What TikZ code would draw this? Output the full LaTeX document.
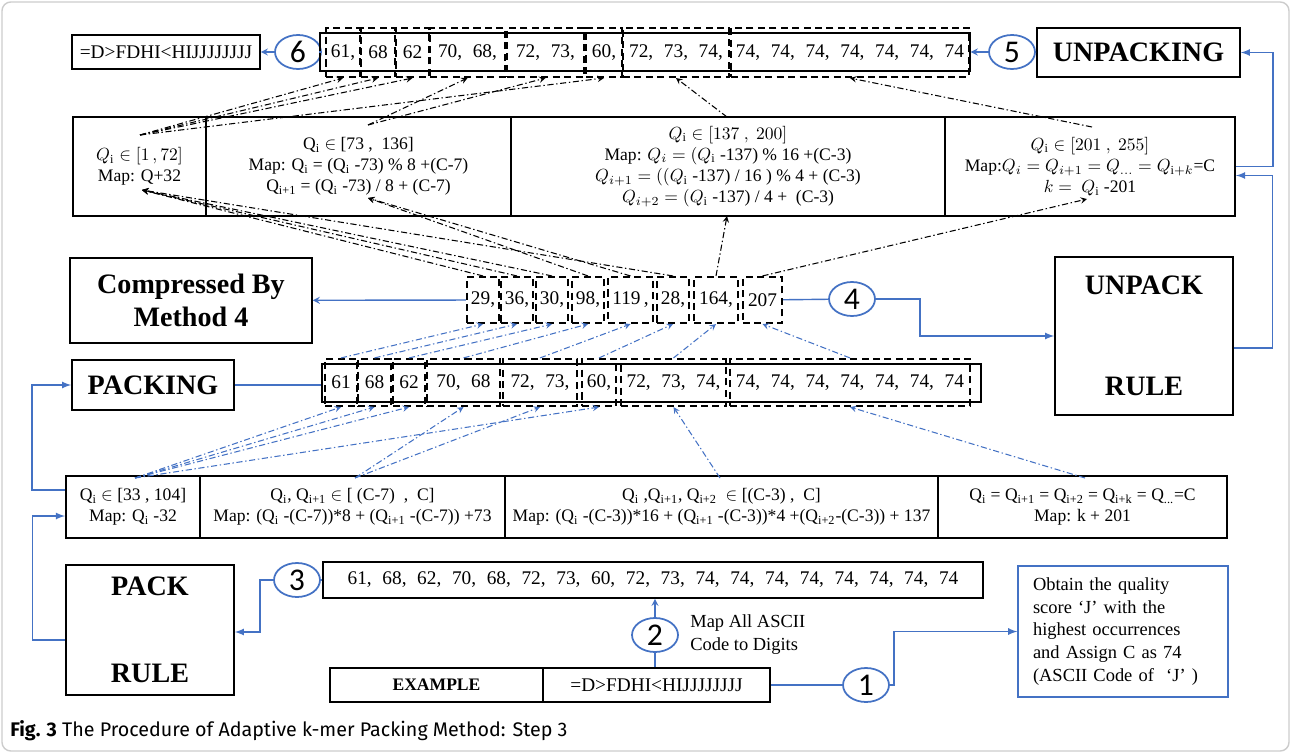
\documentclass[tikz,border=0pt]{standalone}
\usepackage{fontspec}
\setmainfont{Liberation Serif}
\newfontfamily\capfont{Fira Sans}
\newfontfamily\numfont{Carlito}
\usetikzlibrary{shapes.geometric,calc}
\definecolor{linkblue}{RGB}{68,114,196}
\newcommand{\nsp}{\hspace{0.55em}}
\newcommand{\qs}[1]{Q\textsubscript{#1}}
\tikzstyle{cell} = [rectangle, draw=black, line width=1.1pt, inner sep=0pt, minimum height=1.98cm, align=center, font=\fontsize{10}{12}\selectfont]
\tikzstyle{lcell} = [cell, minimum height=1.24cm]
\tikzstyle{heading} = [rectangle, draw=black, line width=0.9pt, inner sep=0pt, align=center, font=\fontsize{16}{19}\selectfont\bfseries]
\tikzstyle{seqbox} = [rectangle, draw=black, line width=0.9pt, inner sep=0pt, minimum height=0.76cm, font=\fontsize{11}{13}\selectfont]
\tikzstyle{grp} = [rectangle, draw=black, line width=1.2pt, dash pattern=on 4pt off 2.5pt, inner sep=0pt, font=\fontsize{11}{13}\selectfont]
\tikzstyle{num} = [ellipse, draw=linkblue, line width=1pt, minimum width=0.92cm, minimum height=0.68cm, inner sep=0pt, font=\numfont\fontsize{18}{18}\selectfont]
\tikzstyle{link} = [draw=linkblue, line width=0.8pt]
\tikzstyle{flow} = [link, ->, >=latex]
\tikzstyle{lnkarrow} = [link, ->, >=stealth]
\tikzstyle{mapk} = [->, >=stealth, line width=0.6pt, dash pattern=on 3.5pt off 1.5pt on 0.8pt off 1.5pt]
\tikzstyle{mapp} = [mapk, draw=linkblue]

\begin{document}
\begin{tikzpicture}[x=0.02cm, y=-0.02cm]
  \useasboundingbox (0,0) rectangle (1291,753);
  \draw[gray!40, line width=0.8pt, rounded corners=5pt] (2,2) rectangle (1289,751);

  % top row: unpacked result
  \node (dec)[seqbox, minimum width=3.76cm, minimum height=0.68cm] at (166,52) {=D>FDHI<HIJJJJJJJJ};
  \node (c6)[num] at (298,52) {6};
  \node (topseq)[seqbox, minimum width=13cm] at (645,52) {};
  \node (t1)[grp, minimum width=0.68cm, minimum height=0.98cm] at (343,52.5) {61,};
  \node (t2)[grp, minimum width=0.68cm, minimum height=0.98cm] at (378,52.5) {68};
  \node (t3)[grp, minimum width=0.66cm, minimum height=0.98cm] at (412.5,52.5) {62};
  \node (t4)[grp, minimum width=1.5cm, minimum height=0.98cm] at (467.5,52.5) {70,\nsp 68,};
  \node (t5)[grp, minimum width=1.54cm, minimum height=0.98cm] at (545.5,52.5) {72,\nsp 73,};
  \node (t6)[grp, minimum width=0.72cm, minimum height=0.98cm] at (604,52.5) {60,};
  \node (t7)[grp, minimum width=2.12cm, minimum height=0.98cm] at (676,52.5) {72,\nsp 73,\nsp 74,};
  \node (t8)[grp, minimum width=4.76cm, minimum height=0.98cm] at (850,52.5) {74,\nsp 74,\nsp 74,\nsp 74,\nsp 74,\nsp 74,\nsp 74};
  \node (c5)[num] at (1012,52) {5};
  \node (unpacking)[heading, minimum width=4.06cm, minimum height=0.98cm] at (1138.5,52.5) {UNPACKING};

  % unpack rule table
  \node (u1)[cell, minimum width=2.66cm] at (139.5,166.5) {$Q_{\mathrm{i}}\in[1\,,72]$\\Map: Q+32};
  \node (u2)[cell, minimum width=6.1cm] at (358.5,166.5) {\qs{i} $\in$ [73 , \ 136]\\Map: \qs{i} = (\qs{i} -73) \% 8 +(C-7)\\\qs{i+1} = (\qs{i} -73) / 8 + (C-7)};
  \node (u3)[cell, minimum width=8.68cm] at (728,166.5) {$Q_{\mathrm{i}}\in[137\ ,\ 200]$\\Map: $Q_i = (Q_{\mathrm{i}}$ -137) \% 16 +(C-3)\\$Q_{i+1} = ((Q_{\mathrm{i}}$ -137) / 16 ) \% 4 + (C-3)\\$Q_{i+2} = (Q_{\mathrm{i}}$ -137) / 4 + \ (C-3)};
  \node (u4)[cell, minimum width=5.8cm] at (1090,166.5) {$Q_{\mathrm{i}}\in[201\ ,\ 255]$\\Map:$Q_i = Q_{i+1} = Q_{\dots} = Q_{\mathrm{i}+k}$=C\\$k =\ Q_{\mathrm{i}}$ -201};
  \coordinate (u1in) at (142,190);
  \coordinate (u1out) at (140,135);
  \coordinate (u2in) at (368,198);
  \coordinate (u2out) at (368,125);
  \coordinate (u3in) at (727,216);
  \coordinate (u3out) at (727,117);
  \coordinate (u4in) at (1087,199);
  \coordinate (u4out) at (1092,127);

  % packed codes
  \node (cmp)[heading, minimum width=4.84cm, minimum height=1.7cm] at (191,300.5) {Compressed By\\Method 4};
  \node (k1)[grp, minimum width=0.64cm, minimum height=0.92cm] at (483,300) {29,};
  \node (k2)[grp, minimum width=0.64cm, minimum height=0.92cm] at (517,300) {36,};
  \node (k3)[grp, minimum width=0.64cm, minimum height=0.92cm] at (552,300) {30,};
  \node (k4)[grp, minimum width=0.64cm, minimum height=0.92cm] at (588,300) {98,};
  \node (k5)[grp, minimum width=0.9cm, minimum height=0.92cm] at (630.5,300) {119\,,};
  \node (k6)[grp, minimum width=0.64cm, minimum height=0.92cm] at (673,300) {28,};
  \node (k7)[grp, minimum width=0.88cm, minimum height=0.92cm] at (716,300) {164,};
  \node (k8)[grp, minimum width=0.78cm, minimum height=0.92cm] at (762.5,300) {207};
  \node (c4)[num] at (852,299) {4};
  \node (unpackrule)[heading, minimum width=3.56cm, minimum height=3.16cm] at (1144,336) {UNPACK\\[1.36cm]RULE};

  % packing row
  \node (packing)[heading, minimum width=3.24cm, minimum height=1cm] at (153,385) {PACKING};
  \node (pseq)[seqbox, minimum width=13.18cm] at (651.5,383) {};
  \node (p1)[grp, minimum width=0.64cm, minimum height=0.94cm] at (341,382.5) {61};
  \node (p2)[grp, minimum width=0.66cm, minimum height=0.94cm] at (374.5,382.5) {68};
  \node (p3)[grp, minimum width=0.64cm, minimum height=0.94cm] at (409,382.5) {62};
  \node (p4)[grp, minimum width=1.46cm, minimum height=0.94cm] at (463.5,382.5) {70,\nsp 68};
  \node (p5)[grp, minimum width=1.48cm, minimum height=0.94cm] at (540,382.5) {72,\nsp 73,};
  \node (p6)[grp, minimum width=0.68cm, minimum height=0.94cm] at (599,382.5) {60,};
  \node (p7)[grp, minimum width=2.1cm, minimum height=0.94cm] at (673.5,382.5) {72,\nsp 73,\nsp 74,};
  \node (p8)[grp, minimum width=4.8cm, minimum height=0.94cm] at (850,382.5) {74,\nsp 74,\nsp 74,\nsp 74,\nsp 74,\nsp 74,\nsp 74};

  % pack rule table
  \node (l1)[lcell, minimum width=2.68cm] at (133,507) {\qs{i} $\in$ [33 , 104]\\Map: \qs{i} -32};
  \node (l2)[lcell, minimum width=6.1cm] at (352.5,507) {\qs{i}, \qs{i+1} $\in$ [ (C-7) \ , \ C]\\Map: (\qs{i} -(C-7))*8 + (\qs{i+1} -(C-7)) +73};
  \node (l3)[lcell, minimum width=8.66cm] at (721.5,507) {\qs{i} ,\qs{i+1}, \qs{i+2} \ $\in$ [(C-3) , \ C]\\Map: (\qs{i} -(C-3))*16 + (\qs{i+1} -(C-3))*4 +(\qs{i+2}-(C-3)) + 137};
  \node (l4)[lcell, minimum width=5.78cm] at (1082.5,507) {\qs{i} = \qs{i+1} = \qs{i+2} = \qs{i+k} = \qs{...}=C\\Map: k + 201};
  \coordinate (l1out) at (135,478);
  \coordinate (l2out) at (355,478);
  \coordinate (l3out) at (720,478);
  \coordinate (l4out) at (1085,478);

  % bottom: input
  \node (packrule)[heading, minimum width=3.36cm, minimum height=2.6cm] at (150,630) {PACK\\[1.07cm]RULE};
  \node (c3)[num] at (297,580) {3};
  \node (seq)[seqbox, minimum width=13.2cm, minimum height=0.72cm] at (653,580) {61,\nsp 68,\nsp 62,\nsp 70,\nsp 68,\nsp 72,\nsp 73,\nsp 60,\nsp 72,\nsp 73,\nsp 74,\nsp 74,\nsp 74,\nsp 74,\nsp 74,\nsp 74,\nsp 74,\nsp 74};
  \node (c2)[num] at (655,635) {2};
  \node (maplbl)[anchor=west, align=left, inner sep=0pt, font=\fontsize{10.5}{13}\selectfont] at (690,635) {Map All ASCII\\Code to Digits};
  \node (exl)[seqbox, minimum width=4.26cm, minimum height=0.68cm, font=\fontsize{10}{12}\selectfont\bfseries] at (436.5,685) {EXAMPLE};
  \node (exr)[seqbox, minimum width=4.54cm, minimum height=0.68cm] at (656.5,685) {=D>FDHI<HIJJJJJJJJ};
  \node (c1)[num] at (866,685) {1};
  \node (note)[rectangle, draw=linkblue, line width=0.8pt, minimum width=4.2cm, minimum height=2.62cm, text width=3.6cm, inner xsep=0.3cm, align=left, font=\fontsize{10.5}{13}\selectfont] at (1123,631.5) {Obtain the quality\\score `J' with the\\highest occurrences\\and Assign C as 74\\(ASCII Code of \ `J' )};

  \node (cap)[anchor=west, inner sep=0pt, font=\capfont\fontsize{11.2}{13}\selectfont] at (10,731) {\textbf{Fig. 3} The Procedure of Adaptive k-mer Packing Method: Step 3};

  % solid connectors
  \draw[lnkarrow] (c6) -- (dec);
  \draw[link] (c6) -- (topseq);
  \draw[lnkarrow] (c5) -- (topseq);
  \draw[link] (c5) -- (unpacking);
  \draw[flow] (u4.east) -- ++(37,0) |- (unpacking.east);
  \draw[flow] ($(unpackrule.east)+(0,12)$) -- ++(39,0) |- ($(u4.east)+(0,9)$);
  \draw[lnkarrow] (k1) -- (cmp);
  \draw[link] (k8) -- (c4);
  \draw[flow] (c4.east) -- ++(44,0) |- (unpackrule.west);
  \draw[flow] ($(l1.west)+(0,-17)$) -- ++(-33,0) |- (packing.west);
  \draw[link] (packing.east) -- (packing.east -| pseq.west);
  \draw[flow] ($(packrule.west)+(0,10)$) -- ++(-33,0) |- ($(l1.west)+(0,9)$);
  \draw[link] (c3) -- (seq);
  \draw[flow] (c3.west) -- ++(-13,0) |- ($(packrule.east)+(0,2)$);
  \draw[lnkarrow] (c2) -- (seq.south -| c2);
  \draw[link] (c2) -- (exr.north -| c2);
  \draw[link] (exr) -- (c1);
  \draw[flow] (c1.east) -- ++(4,0) |- (note.west);

  % unpacking map lines
  \draw[mapk] (k1.north) -- (u1in);
  \draw[mapk] (k2.north) -- (u1in);
  \draw[mapk] (k3.north) -- (u1in);
  \draw[mapk] (k6.north) -- (u1in);
  \draw[mapk] (k4.north) -- (u2in);
  \draw[mapk] (k5.north) -- (u2in);
  \draw[mapk] (k7.north) -- (u3in);
  \draw[mapk] (k8.north) -- (u4in);
  \draw[mapk] (u1out) -- (t1.south);
  \draw[mapk] (u1out) -- (t2.south);
  \draw[mapk] (u1out) -- (t3.south);
  \draw[mapk] (u1out) -- (t6.south);
  \draw[mapk] (u2out) -- (t4.south);
  \draw[mapk] (u2out) -- (t5.south);
  \draw[mapk] (u3out) -- (t7.south);
  \draw[mapk] (u4out) -- (t8.south);

  % packing map lines
  \draw[mapp] (l1out) -- (p1.south);
  \draw[mapp] (l1out) -- (p2.south);
  \draw[mapp] (l1out) -- (p3.south);
  \draw[mapp] (l1out) -- (p6.south);
  \draw[mapp] (l2out) -- (p4.south);
  \draw[mapp] (l2out) -- (p5.south);
  \draw[mapp] (l3out) -- (p7.south);
  \draw[mapp] (l4out) -- (p8.south);
  \draw[mapp] (p1.north) -- (k1.south);
  \draw[mapp] (p2.north) -- (k2.south);
  \draw[mapp] (p3.north) -- (k3.south);
  \draw[mapp] (p4.north) -- (k4.south);
  \draw[mapp] (p5.north) -- (k5.south);
  \draw[mapp] (p6.north) -- (k6.south);
  \draw[mapp] (p7.north) -- (k7.south);
  \draw[mapp] (p8.north) -- (k8.south);
\end{tikzpicture}
\end{document}
